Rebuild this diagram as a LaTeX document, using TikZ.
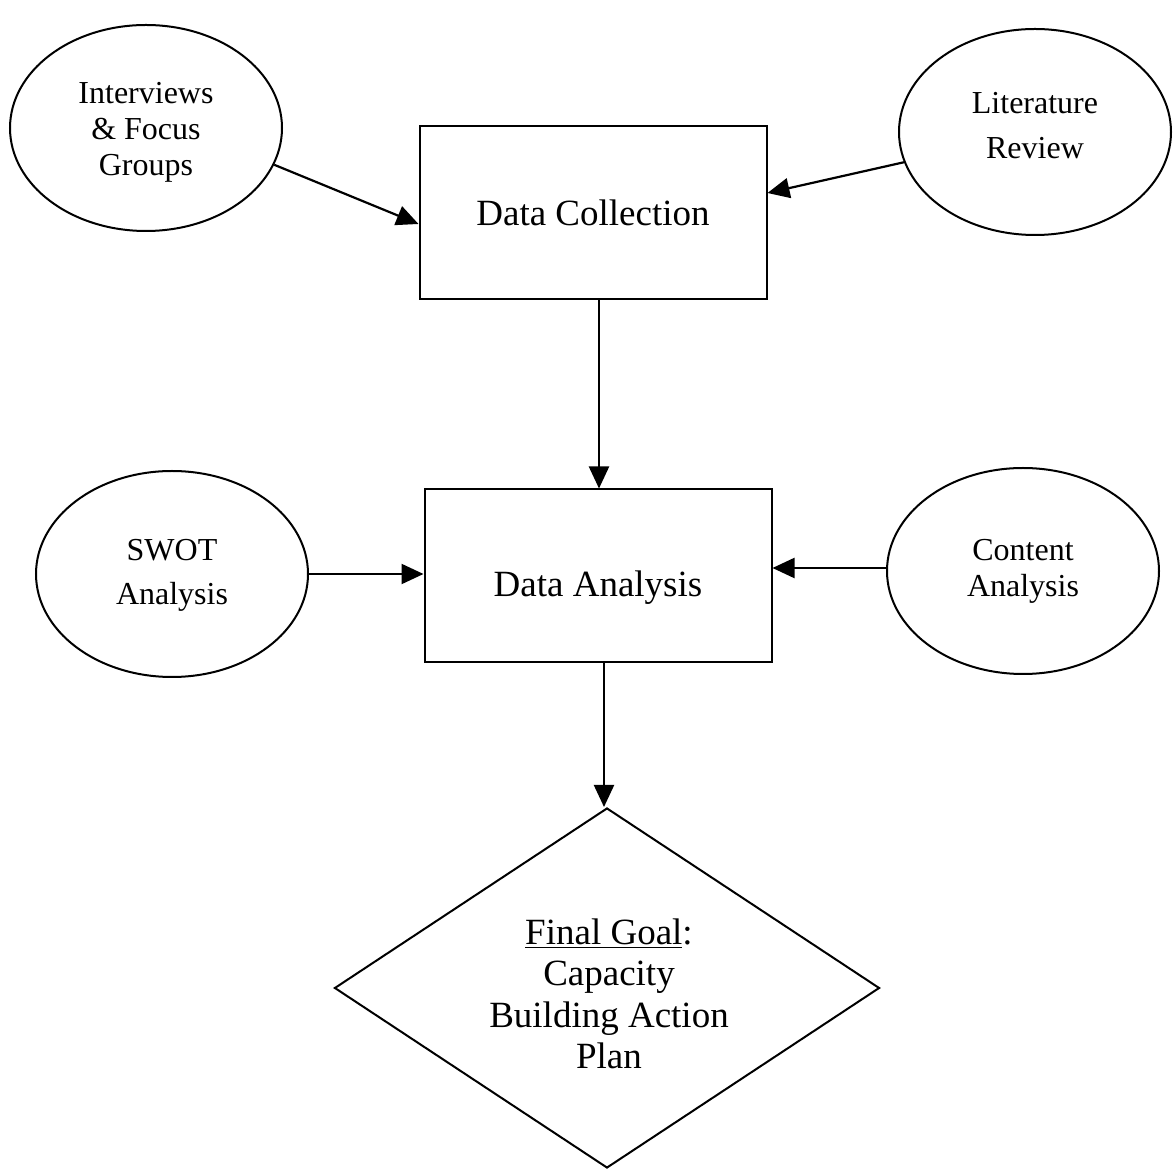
\documentclass[tikz,border=0pt]{standalone}
\usepackage{fontspec}
\setmainfont{Liberation Serif}
\usetikzlibrary{shapes.geometric,arrows.meta,calc}
\begin{document}
\begin{tikzpicture}[x=0.5pt,y=-0.5pt,
  every node/.style={inner sep=0pt, align=center},
  oval/.style={ellipse, draw, line width=1pt, minimum width=136pt, minimum height=103pt},
  ovaltxt/.style={font=\fontsize{16}{#1}\selectfont},
  box/.style={rectangle, draw, line width=1pt, minimum width=173.5pt, minimum height=86.5pt},
  boxtxt/.style={font=\fontsize{18.5}{22}\selectfont},
  goal/.style={diamond, draw, line width=1pt, minimum width=272.5pt, minimum height=180pt},
  goaltxt/.style={font=\fontsize{18.5}{20.7}\selectfont},
  conn/.style={line width=1.1pt, -{Triangle[length=11pt,width=10pt]}}
]
\useasboundingbox (0,0) rectangle (1174,1170);
% shapes
\node[oval] (iv) at (146,128) {};
\node[oval] (lit) at (1035,132) {};
\node[box] (dc) at (593,213) {};
\node[box] (da) at (598,576) {};
\node[oval] (sw) at (172,574) {};
\node[oval] (ca) at (1023,571) {};
\node[goal] (fg) at (607,988) {};
% texts
\node[ovaltxt=18] (ivt) at (146,132) {Interviews\\ \& Focus\\ Groups};
\node[ovaltxt=22.5] (litt) at (1035,126) {Literature\\ Review};
\node[ovaltxt=22] (swt) at (172,575) {SWOT\\ Analysis};
\node[ovaltxt=18] (cat) at (1023,571) {Content\\ Analysis};
\node[boxtxt] (dct) at (593,213) {Data Collection};
\node[boxtxt] (dat) at (598,588) {Data Analysis};
\node[goaltxt] (fgt) at (609,994) {\underline{Final Goal}:\\ Capacity\\ Building Action\\ Plan};
% connector ends
\coordinate (dcb) at ($(dc.south)+(6,0)$);
\coordinate (dat1) at (dcb |- da.north);
\coordinate (dab) at ($(da.south)+(6,0)$);
\coordinate (fgtop) at (dab |- fg.north);
\coordinate (caw) at ($(ca.west)+(0,-3)$);
\coordinate (dae) at (caw -| da.east);
\coordinate (daw) at (sw.east -| da.west);
\draw[conn] (iv.-16) -- ($(dc.west)+(0,11)$);
\draw[conn] (lit.-167) -- ($(dc.east)+(0,-20)$);
\draw[conn] (dcb) -- (dat1);
\draw[conn] (sw.east) -- (daw);
\draw[conn] (caw) -- (dae);
\draw[conn] (dab) -- (fgtop);
\end{tikzpicture}
\end{document}
